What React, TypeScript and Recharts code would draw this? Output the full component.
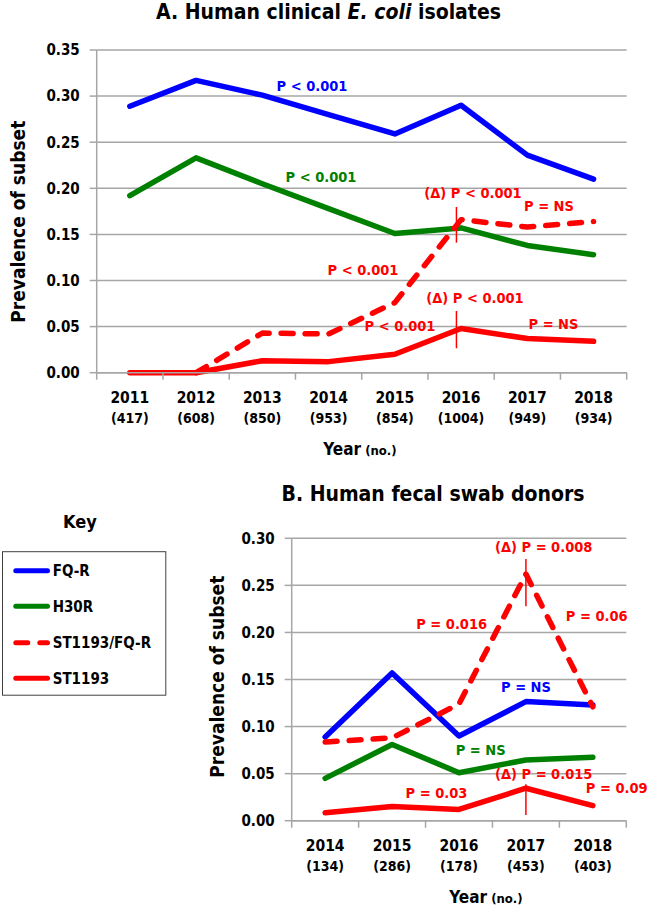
import React from 'react';
import { LineChart, Line, XAxis, YAxis, CartesianGrid, ReferenceLine } from 'recharts';

// Panel A: human clinical E. coli isolates
const yearsA = ['2011', '2012', '2013', '2014', '2015', '2016', '2017', '2018'];
const countsA = [417, 608, 850, 953, 854, 1004, 949, 934];
const fqrA = [0.289, 0.317, 0.301, 0.280, 0.259, 0.290, 0.236, 0.210];
const h30rA = [0.192, 0.233, 0.205, 0.178, 0.151, 0.157, 0.138, 0.128];
const st1193FqrA = [null, 0, 0.043, 0.042, 0.076, 0.166, 0.158, 0.164];
const st1193A = [0, 0, 0.013, 0.012, 0.020, 0.048, 0.037, 0.034];
const yTicksA = [0, 0.05, 0.1, 0.15, 0.2, 0.25, 0.3, 0.35];

// Panel B: human fecal swab donors
const yearsB = ['2014', '2015', '2016', '2017', '2018'];
const countsB = [134, 286, 178, 453, 403];
const fqrB = [0.089, 0.157, 0.090, 0.1265, 0.123];
const h30rB = [0.045, 0.081, 0.051, 0.0645, 0.0675];
const st1193FqrB = [0.0835, 0.088, 0.124, 0.262, 0.121];
const st1193B = [0.0085, 0.015, 0.012, 0.0345, 0.016];
const yTicksB = [0, 0.05, 0.1, 0.15, 0.2, 0.25, 0.3];

const BLUE = '#0000ff';
const GREEN = '#008000';
const RED = '#ff0000';
const GRID = '#a6a6a6';
const FONT = "'DejaVu Sans Condensed', 'DejaVu Sans', sans-serif";

const series = [
  { key: 'fqr', name: 'FQ-R', color: BLUE, dash: undefined },
  { key: 'h30r', name: 'H30R', color: GREEN, dash: undefined },
  { key: 'st1193Fqr', name: 'ST1193/FQ-R', color: RED, dash: '12 12' },
  { key: 'st1193', name: 'ST1193', color: RED, dash: undefined },
];

const buildRows = (years: string[], fqr: any[], h30r: any[], st1193Fqr: any[], st1193: any[]) =>
  years.map((year, i) => ({ pos: i + 0.5, year, fqr: fqr[i], h30r: h30r[i], st1193Fqr: st1193Fqr[i], st1193: st1193[i] }));

const rowsA = buildRows(yearsA, fqrA, h30rA, st1193FqrA, st1193A);
const rowsB = buildRows(yearsB, fqrB, h30rB, st1193FqrB, st1193B);

// ticks at category edges (integers) and centres (halves)
const edgeTicks = (n: number) => Array.from({ length: 2 * n + 1 }, (_, k) => k / 2);

const CatTick = ({ x, y, payload, years, counts }: any) => {
  const v = payload.value;
  if (Number.isInteger(v)) {
    return <line x1={x} x2={x} y1={y} y2={y + 7} stroke={GRID} strokeWidth={1.5} />;
  }
  const i = Math.floor(v);
  return (
    <g fontFamily={FONT} fontWeight={700} fill="#000" textAnchor="middle">
      <text x={x} y={y + 30} fontSize={15.5}>{years[i]}</text>
      <text x={x} y={y + 50} fontSize={14}>({counts[i]})</text>
    </g>
  );
};

const Panel = ({ rows, years, counts, yMax, yTicks, height, margin, yWidth, markers }: any) => (
  <LineChart width={650} height={height} data={rows} margin={margin}>
    <CartesianGrid horizontal vertical={false} stroke={GRID} strokeWidth={1.5} />
    <XAxis
      dataKey="pos"
      type="number"
      domain={[0, years.length]}
      ticks={edgeTicks(years.length)}
      interval={0}
      height={87.3}
      stroke={GRID}
      strokeWidth={1.5}
      tickLine={false}
      tickSize={0}
      tickMargin={0}
      tick={<CatTick years={years} counts={counts} />}
    />
    <YAxis
      type="number"
      domain={[0, yMax]}
      ticks={yTicks}
      interval={0}
      width={yWidth}
      stroke={GRID}
      strokeWidth={1.5}
      tickSize={7}
      tickMargin={10}
      tickFormatter={(v: number) => v.toFixed(2)}
      tick={{ fill: '#000', fontSize: 15, fontWeight: 700, fontFamily: FONT }}
    />
    {series.map((s) => (
      <Line
        key={s.key}
        type="linear"
        dataKey={s.key}
        stroke={s.color}
        strokeWidth={5.5}
        strokeDasharray={s.dash}
        strokeLinecap="round"
        strokeLinejoin="round"
        dot={false}
        activeDot={false}
        isAnimationActive={false}
      />
    ))}
    {markers.map((m: any, i: number) => (
      <ReferenceLine
        key={i}
        segment={[{ x: m.x, y: m.y1 }, { x: m.x, y: m.y2 }]}
        stroke={RED}
        strokeWidth={1.5}
        ifOverflow="visible"
      />
    ))}
  </LineChart>
);

const notesA = [
  { x: 312, y: 91, t: 'P < 0.001', c: BLUE },
  { x: 321, y: 182, t: 'P < 0.001', c: GREEN },
  { x: 473, y: 198, t: '(Δ) P < 0.001', c: RED },
  { x: 549, y: 210.5, t: 'P = NS', c: RED },
  { x: 363, y: 275, t: 'P < 0.001', c: RED },
  { x: 475, y: 303, t: '(Δ) P < 0.001', c: RED },
  { x: 400, y: 330.5, t: 'P < 0.001', c: RED },
  { x: 553.5, y: 329, t: 'P = NS', c: RED },
];

const notesB = [
  { x: 543.7, y: 552, t: '(Δ) P = 0.008', c: RED },
  { x: 451.7, y: 628.5, t: 'P = 0.016', c: RED },
  { x: 596.7, y: 621, t: 'P = 0.06', c: RED },
  { x: 526, y: 692, t: 'P = NS', c: BLUE },
  { x: 480.7, y: 754.5, t: 'P = NS', c: GREEN },
  { x: 543.7, y: 778.5, t: '(Δ) P = 0.015', c: RED },
  { x: 436.5, y: 797.5, t: 'P = 0.03', c: RED },
  { x: 616.7, y: 792.5, t: 'P = 0.09', c: RED },
];

const legendRows = [570.7, 606.3, 642.7, 678.3];

export default function App() {
  return (
    <div style={{ position: 'absolute', left: 0, top: 0, width: 650, height: 908, background: '#fff', overflow: 'hidden' }}>
      <div style={{ position: 'absolute', left: 0, top: 0 }}>
        <Panel
          rows={rowsA}
          years={yearsA}
          counts={countsA}
          yMax={0.35}
          yTicks={yTicksA}
          height={460}
          yWidth={96.7}
          margin={{ top: 50, right: 23.3, bottom: 0, left: 0 }}
          markers={[
            { x: 5.43, y1: 0.1797, y2: 0.141 },
            { x: 5.43, y1: 0.0669, y2: 0.0265 },
          ]}
        />
      </div>
      <div style={{ position: 'absolute', left: 0, top: 460 }}>
        <Panel
          rows={rowsB}
          years={yearsB}
          counts={countsB}
          yMax={0.3}
          yTicks={yTicksB}
          height={448}
          yWidth={291.7}
          margin={{ top: 78.3, right: 23.7, bottom: 0, left: 0 }}
          markers={[
            { x: 3.5, y1: 0.278, y2: 0.2277 },
            { x: 3.5, y1: 0.0387, y2: 0.006 },
          ]}
        />
      </div>
      <svg width={650} height={908} style={{ position: 'absolute', left: 0, top: 0, pointerEvents: 'none' }}
        fontFamily={FONT} fontWeight={700}>
        {/* titles */}
        <text x={328.5} y={19} fontSize={21} textAnchor="middle" fill="#000">
          A. Human clinical <tspan fontStyle="italic">E. coli</tspan> isolates
        </text>
        <text x={433} y={501} fontSize={21} textAnchor="middle" fill="#000">B. Human fecal swab donors</text>

        {/* axis titles */}
        <text transform="translate(25,221.7) rotate(-90)" fontSize={19} textAnchor="middle" fill="#000">Prevalence of subset</text>
        <text transform="translate(223.5,676.7) rotate(-90)" fontSize={19} textAnchor="middle" fill="#000">Prevalence of subset</text>
        <text x={360} y={455} textAnchor="middle" fill="#000">
          <tspan fontSize={17}>Year</tspan><tspan fontSize={13}> (no.)</tspan>
        </text>
        <text x={486} y={902.5} textAnchor="middle" fill="#000">
          <tspan fontSize={17}>Year</tspan><tspan fontSize={13}> (no.)</tspan>
        </text>

        {/* p-value notes */}
        {[...notesA, ...notesB].map((n, i) => (
          <text key={i} x={n.x} y={n.y} fontSize={14.5} textAnchor="middle" fill={n.c}>{n.t}</text>
        ))}

        {/* key */}
        <text x={80} y={528} fontSize={18} textAnchor="middle" fill="#000">Key</text>
        <rect x={2.5} y={551.7} width={163.3} height={143.5} fill="none" stroke="#404040" strokeWidth={1} />
        {series.map((s, i) => (
          <g key={s.key}>
            <line x1={15.8} x2={47.5} y1={legendRows[i]} y2={legendRows[i]} stroke={s.color} strokeWidth={5}
              strokeLinecap="round" strokeDasharray={s.dash} />
            <text x={52.7} y={legendRows[i] + 5.5} fontSize={15} fill="#000">{s.name}</text>
          </g>
        ))}
      </svg>
    </div>
  );
}
